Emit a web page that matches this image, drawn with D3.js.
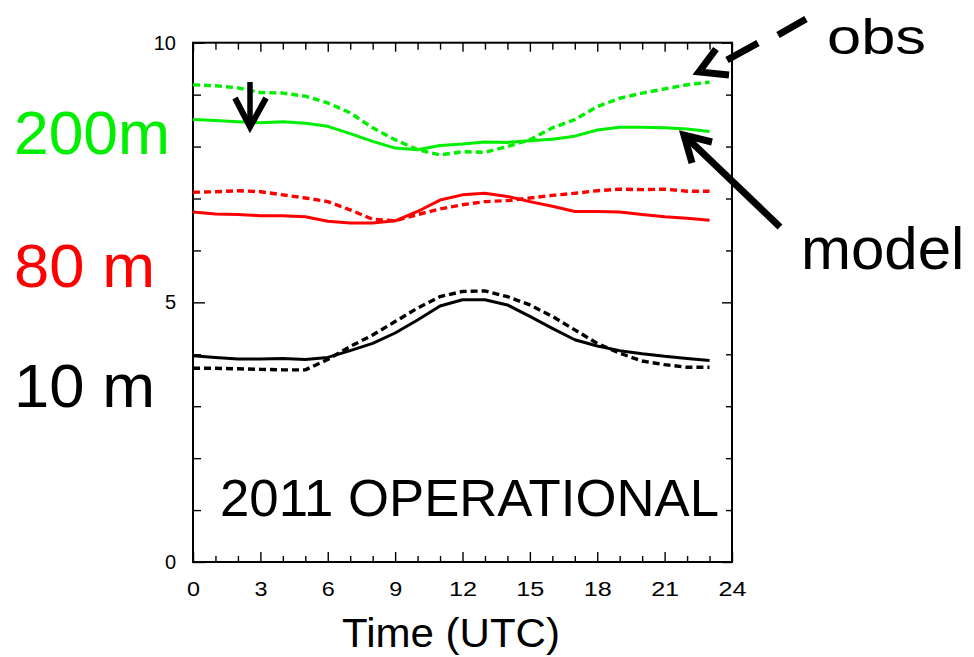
<!DOCTYPE html>
<html>
<head>
<meta charset="utf-8">
<script src="https://cdn.jsdelivr.net/npm/d3@7"></script>
<style>
  html, body { margin: 0; padding: 0; background: #fff; }
  svg { display: block; font-family: "Liberation Sans", Arial, Helvetica, sans-serif; }
</style>
</head>
<body>
<svg id="chart" width="974" height="657"></svg>
<script>
const hours = d3.range(0, 24);
const xMajorTicks = [0, 3, 6, 9, 12, 15, 18, 21, 24];
const yMajorTicks = [0, 5, 10];

const obs200 = [9.19,9.17,9.13,9.04,9.03,8.97,8.84,8.65,8.36,8.13,7.94,7.84,7.90,7.89,8.00,8.13,8.36,8.52,8.77,8.93,9.03,9.11,9.19,9.24];
const model200 = [8.52,8.50,8.48,8.46,8.48,8.45,8.39,8.25,8.10,7.97,7.94,8.02,8.05,8.09,8.08,8.11,8.14,8.20,8.32,8.37,8.37,8.36,8.34,8.29];
const obs80 = [7.12,7.13,7.15,7.13,7.07,7.01,6.94,6.78,6.60,6.57,6.69,6.80,6.88,6.94,6.96,7.01,7.06,7.10,7.15,7.18,7.17,7.18,7.14,7.14];
const model80 = [6.74,6.70,6.69,6.67,6.67,6.65,6.56,6.53,6.53,6.57,6.75,6.97,7.07,7.10,7.04,6.94,6.85,6.75,6.75,6.74,6.69,6.65,6.62,6.58];
const obs10 = [3.73,3.73,3.72,3.71,3.70,3.70,3.90,4.15,4.37,4.63,4.89,5.11,5.21,5.22,5.11,4.95,4.73,4.47,4.21,4.02,3.87,3.80,3.75,3.75];
const model10 = [3.97,3.94,3.91,3.91,3.92,3.90,3.94,4.07,4.21,4.41,4.66,4.93,5.05,5.05,4.95,4.73,4.50,4.28,4.16,4.07,4.01,3.96,3.92,3.88];

const series = [
  { values: obs200, color: "#00ee00", dashed: true },
  { values: model200, color: "#00ee00", dashed: false },
  { values: obs80, color: "#ff0000", dashed: true },
  { values: model80, color: "#ff0000", dashed: false },
  { values: obs10, color: "#000000", dashed: true },
  { values: model10, color: "#000000", dashed: false }
];

const svg = d3.select("#chart");
const L = 193, R = 732, T = 42.7, B = 562;
const x = d3.scaleLinear().domain([0, 24]).range([L, R]);
const y = d3.scaleLinear().domain([0, 10]).range([B, T]);

const minorX = d3.range(0, 25);
const minorY = d3.range(0, 11);

function styleAxis(g) {
  g.select(".domain").remove();
  g.attr("font-size", 20);
  g.selectAll("line").attr("stroke", "#000").attr("stroke-width", 1.4);
  g.selectAll("text").attr("font-size", 20).attr("fill", "#000")
    .attr("font-family", "'Liberation Sans', Arial, sans-serif");
}

// bottom axis
svg.append("g").attr("transform", `translate(0,${B})`)
  .call(d3.axisBottom(x).tickValues(minorX.filter(d => d % 3 !== 0)).tickSizeInner(-6).tickSizeOuter(0).tickFormat(""))
  .call(styleAxis);
svg.append("g").attr("transform", `translate(0,${B})`)
  .call(d3.axisBottom(x).tickValues(xMajorTicks).tickSizeInner(-10).tickSizeOuter(0).tickPadding(20).tickFormat(d3.format("d")))
  .call(styleAxis)
  .call(g => g.selectAll("text")
    .attr("textLength", d => d >= 10 ? 28 : 13).attr("lengthAdjust", "spacingAndGlyphs"));
// top axis
svg.append("g").attr("transform", `translate(0,${T})`)
  .call(d3.axisTop(x).tickValues(minorX.filter(d => d % 3 !== 0)).tickSizeInner(-7).tickSizeOuter(0).tickFormat(""))
  .call(styleAxis);
svg.append("g").attr("transform", `translate(0,${T})`)
  .call(d3.axisTop(x).tickValues(xMajorTicks).tickSizeInner(-9).tickSizeOuter(0).tickFormat(""))
  .call(styleAxis);
// left axis
svg.append("g").attr("transform", `translate(${L},0)`)
  .call(d3.axisLeft(y).tickValues(minorY.filter(d => d % 5 !== 0)).tickSizeInner(-8).tickSizeOuter(0).tickFormat(""))
  .call(styleAxis);
svg.append("g").attr("transform", `translate(${L},0)`)
  .call(d3.axisLeft(y).tickValues(yMajorTicks).tickSizeInner(-12).tickSizeOuter(0).tickPadding(17).tickFormat(d3.format("d")))
  .call(styleAxis);
// right axis
svg.append("g").attr("transform", `translate(${R},0)`)
  .call(d3.axisRight(y).tickValues(minorY.filter(d => d % 5 !== 0)).tickSizeInner(-6).tickSizeOuter(0).tickFormat(""))
  .call(styleAxis);
svg.append("g").attr("transform", `translate(${R},0)`)
  .call(d3.axisRight(y).tickValues(yMajorTicks).tickSizeInner(-10).tickSizeOuter(0).tickFormat(""))
  .call(styleAxis);

// frame
svg.append("rect").attr("x", L).attr("y", T).attr("width", R - L).attr("height", B - T)
  .attr("fill", "none").attr("stroke", "#000").attr("stroke-width", 2);

// lines
const line = d3.line().x((d, i) => x(hours[i])).y(d => y(d)).curve(d3.curveLinear);
series.forEach(s => {
  svg.append("path").datum(s.values)
    .attr("d", line)
    .attr("fill", "none")
    .attr("stroke", s.color)
    .attr("stroke-width", s.dashed ? 3.4 : 3)
    .attr("stroke-dasharray", s.dashed ? "7,4" : null)
    .attr("stroke-linejoin", "round");
});

// texts
const font = "'Liberation Sans', Arial, Helvetica, sans-serif";
function txt(str, px, py, size, color, anchor, extra) {
  const t = svg.append("text").attr("x", px).attr("y", py).attr("font-size", size)
    .attr("fill", color).attr("text-anchor", anchor || "start").attr("font-family", font).text(str);
  if (extra) extra(t);
  return t;
}
const fit = w => t => t.attr("textLength", w).attr("lengthAdjust", "spacingAndGlyphs");
txt("200m", 14, 154, 62, "#00ee00", "start", fit(156));
txt("80 m", 14, 287, 62, "#ff0000", "start", fit(141));
txt("10 m", 14, 407, 62, "#000", "start", fit(141));
txt("2011 OPERATIONAL", 220, 516, 52, "#000", "start", fit(499));
txt("Time (UTC)", 342, 647, 40, "#000", "start", fit(218));
txt("obs", 827, 54, 50, "#000", "start", fit(99));
txt("model", 801, 269, 60, "#000");

// arrows
const arrowStyle = p => p.attr("fill", "none").attr("stroke", "#000").attr("stroke-linecap", "butt").attr("stroke-linejoin", "miter");
// down arrow
svg.append("path").attr("d", "M250,82 L250,126").call(arrowStyle).attr("stroke-width", 5.5);
svg.append("path").attr("d", "M235,98 L250,127 L266,98").call(arrowStyle).attr("stroke-width", 6);
// obs dashed arrow
svg.append("path").attr("d", "M806,19 L778,35 M758,43 L727,60").call(arrowStyle).attr("stroke-width", 7);
svg.append("path").attr("d", "M716,49 L699,72 L729,75").call(arrowStyle).attr("stroke-width", 7);
// model arrow
svg.append("path").attr("d", "M780,227 L686,137").call(arrowStyle).attr("stroke-width", 7);
svg.append("path").attr("d", "M692,163 L684,135 L712,142").call(arrowStyle).attr("stroke-width", 7);
</script>
</body>
</html>
